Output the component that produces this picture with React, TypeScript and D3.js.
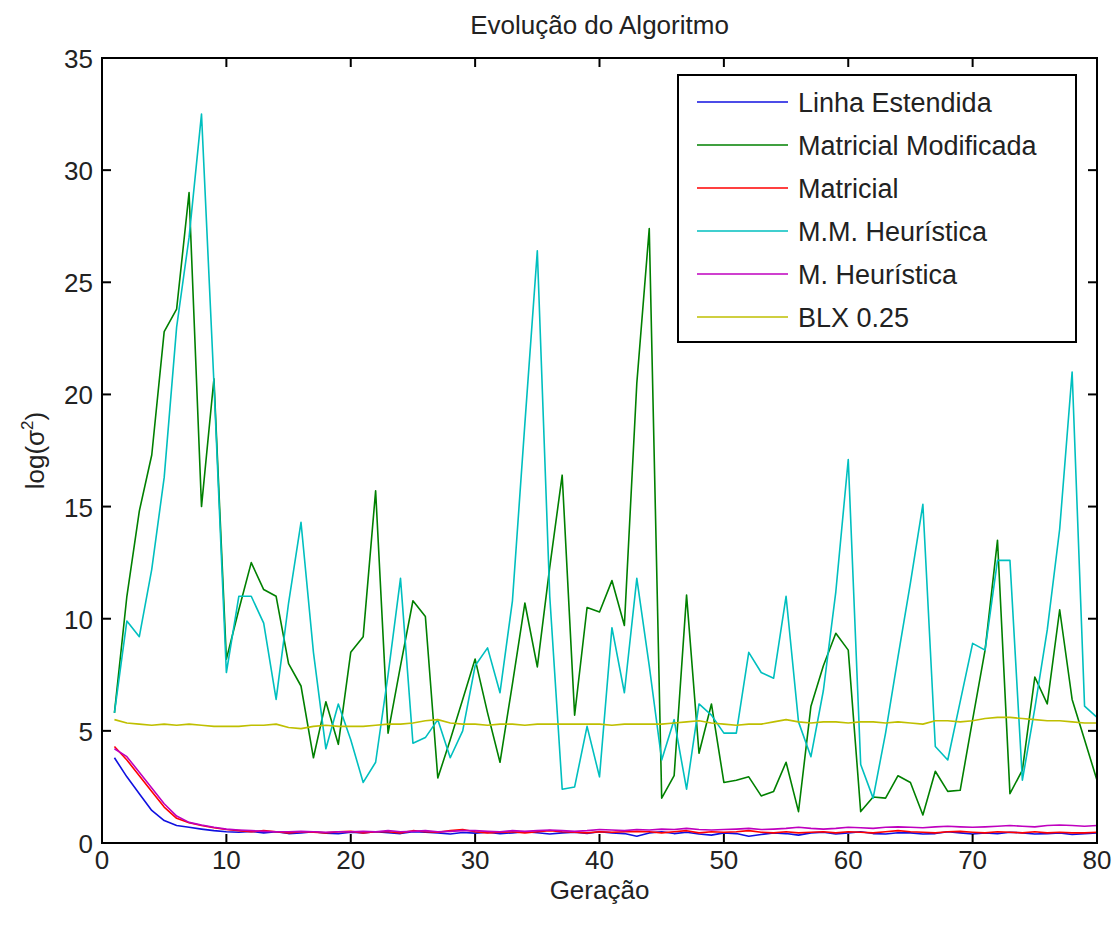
import React, { useRef, useEffect } from 'react';
import { select, scaleLinear, line, range } from 'd3';

// gerações 1..80
const geracoes = range(1, 81);

const linhaEstendida = [3.8, 2.95, 2.2, 1.45, 1.0, 0.78, 0.7, 0.62, 0.55, 0.5, 0.48, 0.52, 0.45, 0.5, 0.42, 0.45, 0.5, 0.44, 0.42, 0.48,
  0.45, 0.5, 0.46, 0.42, 0.5, 0.48, 0.45, 0.4, 0.47, 0.44, 0.48, 0.42, 0.45, 0.5, 0.46, 0.4, 0.45, 0.48, 0.43, 0.5,
  0.45, 0.42, 0.3, 0.45, 0.5, 0.42, 0.48, 0.4, 0.35, 0.45, 0.42, 0.3, 0.38, 0.45, 0.42, 0.35, 0.45, 0.48, 0.4, 0.45,
  0.5, 0.42, 0.4, 0.46, 0.45, 0.4, 0.42, 0.5, 0.45, 0.4, 0.45, 0.42, 0.48, 0.45, 0.4, 0.42, 0.45, 0.38, 0.42, 0.45];

const matricialModificada = [5.8, 11.0, 14.8, 17.3, 22.8, 23.8, 29.0, 15.0, 20.7, 8.2, 10.4, 12.5, 11.3, 11.0, 8.0, 7.0, 3.8, 6.3, 4.4, 8.5,
  9.2, 15.7, 4.9, 7.9, 10.8, 10.1, 2.9, 4.6, 6.4, 8.2, 5.8, 3.6, 7.1, 10.7, 7.85, 12.3, 16.4, 5.7, 10.5, 10.3,
  11.7, 9.7, 20.5, 27.4, 2.0, 3.0, 11.05, 4.0, 6.2, 2.7, 2.8, 2.95, 2.1, 2.3, 3.6, 1.4, 6.1, 7.9, 9.35, 8.6,
  1.4, 2.05, 2.0, 3.0, 2.7, 1.25, 3.2, 2.3, 2.35, 5.5, 8.6, 13.5, 2.2, 3.25, 7.4, 6.2, 10.4, 6.4, 4.6, 2.8];

const matricial = [4.3, 3.7, 3.0, 2.3, 1.6, 1.1, 0.9, 0.78, 0.68, 0.6, 0.55, 0.5, 0.55, 0.5, 0.45, 0.5, 0.48, 0.45, 0.5, 0.52,
  0.45, 0.5, 0.5, 0.45, 0.55, 0.5, 0.48, 0.55, 0.6, 0.5, 0.45, 0.48, 0.5, 0.45, 0.5, 0.55, 0.5, 0.48, 0.45, 0.5,
  0.48, 0.5, 0.52, 0.5, 0.45, 0.5, 0.55, 0.45, 0.5, 0.48, 0.5, 0.55, 0.48, 0.45, 0.5, 0.45, 0.48, 0.5, 0.45, 0.5,
  0.48, 0.45, 0.5, 0.55, 0.5, 0.48, 0.45, 0.5, 0.52, 0.48, 0.45, 0.5, 0.48, 0.45, 0.5, 0.45, 0.48, 0.45, 0.45, 0.48];

const mmHeuristica = [5.8, 9.9, 9.2, 12.2, 16.3, 23.0, 27.0, 32.5, 20.5, 7.6, 11.0, 11.0, 9.8, 6.4, 10.7, 14.3, 8.5, 4.2, 6.2, 4.6,
  2.7, 3.6, 7.5, 11.8, 4.45, 4.7, 5.5, 3.8, 5.0, 7.9, 8.7, 6.7, 10.8, 18.7, 26.4, 11.0, 2.4, 2.5, 5.2, 2.95,
  9.6, 6.7, 11.8, 7.9, 3.7, 5.5, 2.4, 6.2, 5.7, 4.9, 4.9, 8.5, 7.6, 7.35, 11.0, 5.4, 3.85, 6.8, 11.2, 17.1,
  3.5, 2.0, 4.9, 8.3, 11.6, 15.1, 4.3, 3.7, 6.3, 8.9, 8.6, 12.6, 12.6, 2.8, 6.0, 9.5, 14.0, 21.0, 6.1, 5.6];

const mHeuristica = [4.2, 3.85, 3.15, 2.45, 1.75, 1.2, 0.92, 0.8, 0.7, 0.62, 0.58, 0.55, 0.52, 0.5, 0.5, 0.52, 0.5, 0.48, 0.5, 0.5,
  0.52, 0.5, 0.55, 0.5, 0.52, 0.55, 0.5, 0.52, 0.55, 0.55, 0.52, 0.5, 0.55, 0.52, 0.55, 0.58, 0.55, 0.52, 0.55, 0.6,
  0.58, 0.55, 0.6, 0.58, 0.62, 0.6, 0.65, 0.6, 0.58, 0.6, 0.62, 0.65, 0.6, 0.62, 0.65, 0.7, 0.65, 0.62, 0.65, 0.7,
  0.68, 0.65, 0.7, 0.72, 0.7, 0.68, 0.72, 0.75, 0.72, 0.7, 0.72, 0.75, 0.78, 0.75, 0.72, 0.78, 0.8, 0.78, 0.75, 0.78];

const blx025 = [5.5, 5.35, 5.3, 5.25, 5.3, 5.25, 5.3, 5.25, 5.2, 5.2, 5.2, 5.25, 5.25, 5.3, 5.15, 5.1, 5.2, 5.25, 5.2, 5.2,
  5.2, 5.25, 5.3, 5.3, 5.35, 5.45, 5.5, 5.35, 5.3, 5.3, 5.25, 5.3, 5.3, 5.25, 5.3, 5.3, 5.3, 5.3, 5.3, 5.3,
  5.25, 5.3, 5.3, 5.3, 5.3, 5.35, 5.4, 5.45, 5.35, 5.3, 5.25, 5.3, 5.3, 5.4, 5.5, 5.4, 5.35, 5.4, 5.4, 5.35,
  5.4, 5.4, 5.35, 5.4, 5.35, 5.3, 5.45, 5.45, 5.4, 5.45, 5.55, 5.6, 5.6, 5.55, 5.5, 5.45, 5.45, 5.4, 5.35, 5.35];

const nomes = ['Linha Estendida', 'Matricial Modificada', 'Matricial', 'M.M. Heurística', 'M. Heurística', 'BLX 0.25'];
const series = [linhaEstendida, matricialModificada, matricial, mmHeuristica, mHeuristica, blx025];
const cores = ['#1010e0', '#008000', '#ff0000', '#00bfbf', '#bf00bf', '#bfbf00'];

const xTicks = [0, 10, 20, 30, 40, 50, 60, 70, 80];
const yTicks = [0, 5, 10, 15, 20, 25, 30, 35];

const W = 1113, H = 926;
const margin = { left: 102, right: 16, top: 58, bottom: 83 };
const FONT = 'Liberation Sans, Arial, sans-serif';

const App = () => {
  const svgRef = useRef(null);

  useEffect(() => {
    const svg = select(svgRef.current);
    svg.selectAll('*').remove();

    const x = scaleLinear().domain([0, 80]).range([margin.left, W - margin.right]);
    const y = scaleLinear().domain([0, 35]).range([H - margin.bottom, margin.top]);

    svg.append('rect').attr('width', W).attr('height', H).attr('fill', '#fff');

    // linhas, na ordem do plot (a última fica por cima)
    const g = svg.append('g');
    series.forEach((s, i) => {
      const ln = line<number>()
        .x((d, k) => x(geracoes[k]))
        .y(d => y(d));
      g.append('path')
        .attr('d', ln(s))
        .attr('fill', 'none')
        .attr('stroke', cores[i])
        .attr('stroke-width', 1.6)
        .attr('stroke-linejoin', 'round');
    });

    // caixa e ticks (para dentro, nos quatro lados)
    const x0 = x(0), x1 = x(80), y0 = y(0), y1 = y(35);
    const tl = 9;
    const ax = svg.append('g').attr('stroke', '#000').attr('stroke-width', 2);
    ax.append('rect').attr('x', x0).attr('y', y1).attr('width', x1 - x0).attr('height', y0 - y1).attr('fill', 'none');
    xTicks.forEach(t => {
      ax.append('line').attr('x1', x(t)).attr('x2', x(t)).attr('y1', y0).attr('y2', y0 - tl);
      ax.append('line').attr('x1', x(t)).attr('x2', x(t)).attr('y1', y1).attr('y2', y1 + tl);
    });
    yTicks.forEach(t => {
      ax.append('line').attr('x1', x0).attr('x2', x0 + tl).attr('y1', y(t)).attr('y2', y(t));
      ax.append('line').attr('x1', x1).attr('x2', x1 - tl).attr('y1', y(t)).attr('y2', y(t));
    });

    const txt = svg.append('g').attr('font-family', FONT).attr('font-size', 26).attr('fill', '#222');
    xTicks.forEach(t => {
      txt.append('text').attr('x', x(t)).attr('y', y0 + 26).attr('text-anchor', 'middle').text(t);
    });
    yTicks.forEach(t => {
      txt.append('text').attr('x', x0 - 9).attr('y', y(t) + 10).attr('text-anchor', 'end').text(t);
    });

    txt.append('text').attr('x', (x0 + x1) / 2).attr('y', 34).attr('text-anchor', 'middle').text('Evolução do Algoritmo');
    txt.append('text').attr('x', (x0 + x1) / 2).attr('y', 899).attr('text-anchor', 'middle').text('Geração');

    const yl = txt.append('text')
      .attr('transform', `translate(44,${(y0 + y1) / 2}) rotate(-90)`)
      .attr('text-anchor', 'middle');
    yl.append('tspan').text('log(σ');
    yl.append('tspan').attr('font-size', 17).attr('dy', -11).text('2');
    yl.append('tspan').attr('dy', 11).text(')');

    // legenda
    const lg = svg.append('g');
    lg.append('rect').attr('x', 678).attr('y', 75).attr('width', 398).attr('height', 267)
      .attr('fill', '#fff').attr('stroke', '#000').attr('stroke-width', 2);
    nomes.forEach((n, i) => {
      const cy = 102 + i * 43;
      lg.append('line').attr('x1', 697).attr('x2', 788).attr('y1', cy).attr('y2', cy)
        .attr('stroke', cores[i]).attr('stroke-width', 1.6);
      lg.append('text').attr('x', 798).attr('y', cy + 10)
        .attr('font-family', FONT).attr('font-size', 27).attr('fill', '#222').text(n);
    });
  }, []);

  return (
    <svg ref={svgRef} width={W} height={H} style={{ position: 'absolute', left: 0, top: 0 }} />
  );
};

export default App;
